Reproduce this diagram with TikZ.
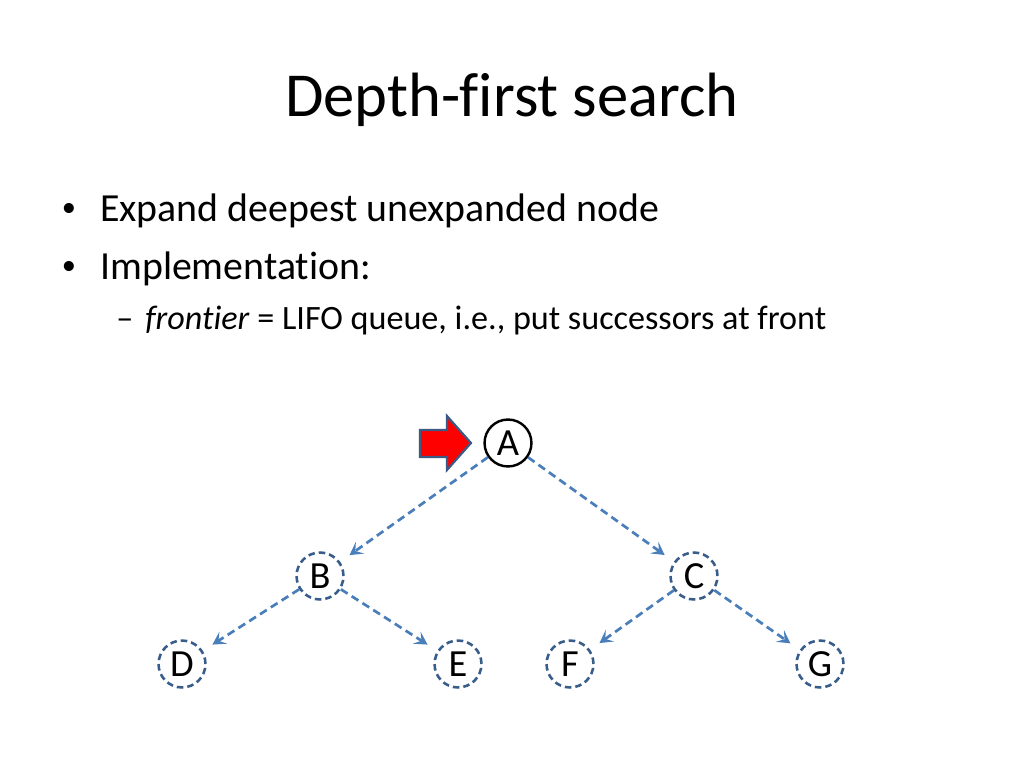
\documentclass[tikz,border=0pt]{standalone}
\usepackage{fontspec}
\setmainfont{Carlito}[Ligatures=NoCommon]
\usetikzlibrary{arrows.meta}
\definecolor{edgeblue}{HTML}{4A7EBB}
\definecolor{nodeblue}{HTML}{385D8A}
\definecolor{arrowborder}{HTML}{3B5A85}
\begin{document}
\begin{tikzpicture}[x=0.703125pt,y=-0.703125pt,
  tn/.style={circle, draw=black, minimum size=33pt, inner sep=0pt, line width=1.7pt,
    font=\fontsize{27}{30}\selectfont},
  dn/.style={tn, draw=nodeblue, line width=1.8pt, dash pattern=on 4.6pt off 2.8pt},
  ed/.style={draw=edgeblue, line width=1.9pt, dash pattern=on 5.6pt off 3.4pt,
    -{Stealth[length=9pt,width=10pt,inset=4pt]}, shorten >=8pt},
  title/.style={font=\fontsize{44}{50}\selectfont, anchor=base},
  bul/.style={font=\fontsize{20}{24}\selectfont, anchor=center, inner sep=0pt},
  lvlone/.style={font=\fontsize{28}{34}\selectfont, anchor=base west, inner sep=0pt},
  lvltwo/.style={font=\fontsize{24}{29}\selectfont, anchor=base west, inner sep=0pt}
]
\useasboundingbox[fill=white] (0,0) rectangle (1024,768);
\node[title] (t) at (512,117) {Depth-first search};
\node[bul] (b1) at (69,210) {\textbullet};
\node[lvlone] (l1) at (100,222) {Expand deepest unexpanded node};
\node[bul] (b2) at (69,268) {\textbullet};
\node[lvlone] (l2) at (100,280) {Implementation:};
\node[lvltwo] (d3) at (116,330) {–};
\node[lvltwo] (l3) at (145,330) {\textit{frontier} = LIFO queue, i.e., put successors at front};

\node[tn] (A) at (508,443) {A};
\node[dn] (B) at (320,576) {B};
\node[dn] (C) at (694,576) {C};
\node[dn] (D) at (182,664) {D};
\node[dn] (E) at (458,664) {E};
\node[dn] (F) at (570,664) {F};
\node[dn] (G) at (820,664) {G};

\draw[ed] (A) -- (B);
\draw[ed] (A) -- (C);
\draw[ed] (B) -- (D);
\draw[ed] (B) -- (E);
\draw[ed] (C) -- (F);
\draw[ed] (C) -- (G);

\draw[fill=red, draw=arrowborder, line width=1.5pt, line join=miter]
  (420,430) -- (447,430) -- (447,416) -- (471,443) -- (447,470) -- (447,457) -- (420,457) -- cycle;
\end{tikzpicture}
\end{document}
